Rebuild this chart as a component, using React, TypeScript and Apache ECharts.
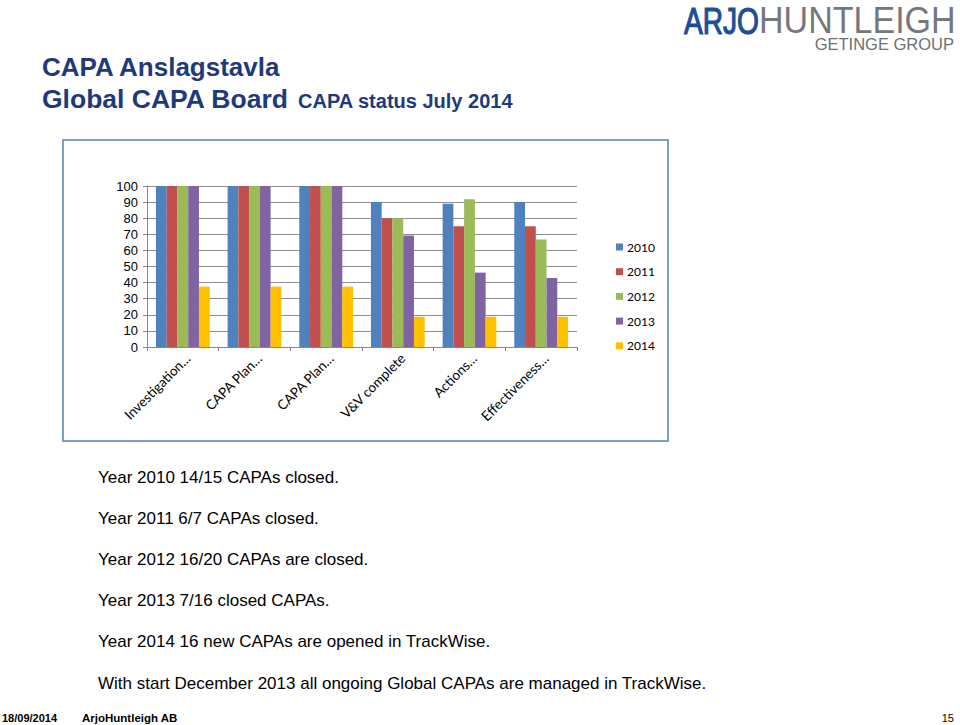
import React, { useEffect, useRef } from "react";
import * as echarts from "echarts";

const categories = [
  "Investigation…",
  "CAPA Plan…",
  "CAPA Plan…",
  "V&V complete",
  "Actions…",
  "Effectiveness…",
];
const years = ["2010", "2011", "2012", "2013", "2014"];
const values2010 = [100, 100, 100, 90, 89, 90];
const values2011 = [100, 100, 100, 80, 75, 75];
const values2012 = [100, 100, 100, 80, 91.7, 66.7];
const values2013 = [100, 100, 100, 69.2, 46.2, 42.9];
const values2014 = [37.5, 37.5, 37.5, 18.75, 18.75, 18.75];
const seriesValues = [values2010, values2011, values2012, values2013, values2014];
const colors = ["#4F81BD", "#C0504D", "#9BBB59", "#8064A2", "#FFC000"];

const bodyLines = [
  "Year 2010 14/15 CAPAs closed.",
  "Year 2011 6/7 CAPAs closed.",
  "Year 2012 16/20 CAPAs are closed.",
  "Year 2013 7/16 closed CAPAs.",
  "Year 2014 16 new CAPAs are opened in TrackWise.",
  "With start December 2013 all ongoing Global CAPAs are managed in TrackWise.",
];
const bodyY = [477, 518, 559, 600, 641, 683];

export default function App() {
  const ref = useRef<HTMLDivElement>(null);
  useEffect(() => {
    if (!ref.current) return;
    const chart = echarts.init(ref.current, null, { renderer: "svg" });
    const sans = "'Liberation Sans', Arial, Helvetica, sans-serif";
    const calib = "Lato, 'Open Sans', sans-serif";
    const txt = (text: string, x: number, y: number, opts: any = {}) => ({
      type: "text",
      x,
      y,
      z: 10,
      style: {
        text,
        fill: opts.fill || "#000",
        fontSize: opts.fontSize || 17,
        fontWeight: opts.fontWeight || "normal",
        fontFamily: opts.fontFamily || sans,
        textAlign: opts.align || "left",
        align: opts.align || "left",
        textVerticalAlign: "middle",
        verticalAlign: "middle",
        stroke: opts.stroke || undefined,
        lineWidth: opts.lineWidth || 0,
      },
      scaleX: opts.scaleX || 1,
      scaleY: opts.scaleY || 1,
    });
    const elements: any[] = [
      {
        type: "rect",
        z: -10,
        shape: { x: 63, y: 140, width: 605, height: 301 },
        style: { fill: "rgba(0,0,0,0)", stroke: "#7BA0CC", lineWidth: 2 },
      },
      txt("CAPA Anslagstavla", 42, 67, { fontSize: 26, fontWeight: "bold", fill: "#1F3A7C" }),
      txt("Global CAPA Board", 42, 99, { fontSize: 26.5, fontWeight: "bold", fill: "#1F3A7C" }),
      txt("CAPA status July 2014", 298, 101, { fontSize: 20, fontWeight: "bold", fill: "#1F3A7C" }),
      txt("ARJO", 684, 21, { fontSize: 37, fill: "#1D4F94", scaleX: 0.76, stroke: "#1D4F94", lineWidth: 1.2 }),
      txt("HUNTLEIGH", 759, 21, { fontSize: 37, fill: "#76787B", scaleX: 0.92 }),
      txt("GETINGE GROUP", 954, 44, { fontSize: 16.5, fill: "#6E7073", align: "right" }),
      txt("18/09/2014", 2, 718, { fontSize: 11, fontWeight: "bold" }),
      txt("ArjoHuntleigh AB", 82, 718, { fontSize: 11.5, fontWeight: "bold" }),
      txt("15", 954, 718, { fontSize: 11, align: "right" }),
    ];
    bodyLines.forEach((l, i) => elements.push(txt(l, 98, bodyY[i], { fontSize: 17 })));

    chart.setOption({
      animation: false,
      backgroundColor: "#fff",
      color: colors,
      grid: { left: 147, top: 186, width: 430, height: 161 },
      legend: {
        orient: "vertical",
        left: 611,
        top: 235,
        itemWidth: 7,
        itemHeight: 7,
        itemGap: 10.7,
        icon: "rect",
        data: years,
        textStyle: { fontFamily: calib, fontSize: 12, color: "#000", lineHeight: 14, padding: [0, 0, 0, -1] },
      },
      xAxis: {
        type: "category",
        data: categories,
        axisLine: { lineStyle: { color: "#888", width: 1 } },
        axisTick: { show: true, length: 4, lineStyle: { color: "#888" } },
        axisLabel: {
          rotate: 45,
          interval: 0,
          margin: 4,
          verticalAlign: "top",
          fontFamily: calib,
          fontSize: 13.5,
          color: "#000",
        },
      },
      yAxis: {
        type: "value",
        min: 0,
        max: 100,
        interval: 10,
        axisLine: { show: true, lineStyle: { color: "#888", width: 1 } },
        axisTick: { show: true, length: 4, lineStyle: { color: "#888" } },
        splitLine: { lineStyle: { color: "#8F8F8F", width: 1 } },
        axisLabel: { fontFamily: sans, fontSize: 13, color: "#000", margin: 9 },
      },
      series: years.map((y, i) => ({
        name: y,
        type: "bar",
        data: seriesValues[i],
        barGap: "0%",
        barCategoryGap: "25%",
      })),
      graphic: { elements },
    });
    return () => chart.dispose();
  }, []);
  return (
    <div
      ref={ref}
      style={{ position: "absolute", left: 0, top: 0, width: 960, height: 725 }}
    />
  );
}
